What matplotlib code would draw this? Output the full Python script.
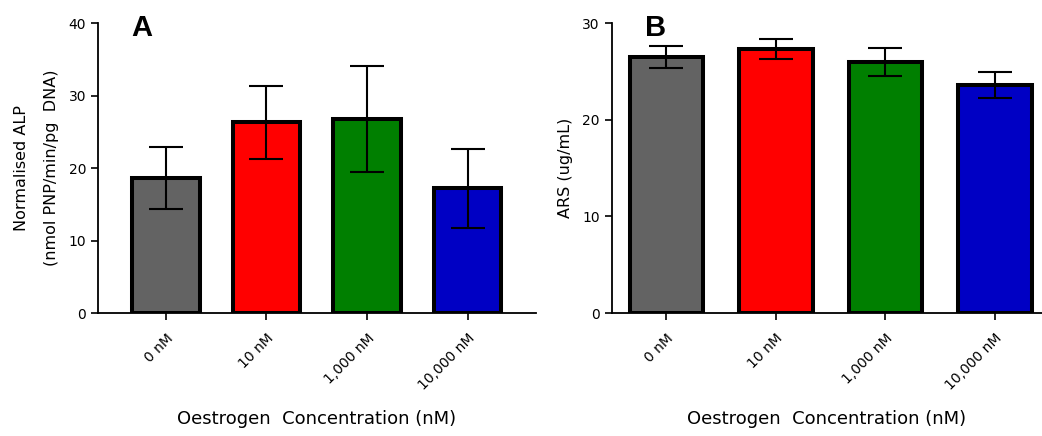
#!/usr/bin/env python3
"""Oestrogen dose response - ALP (A) and ARS (B) bar charts with SD error bars."""
import matplotlib
matplotlib.use("Agg")
import matplotlib.pyplot as plt
import numpy as np

CONCS = ["0 nM", "10 nM", "1,000 nM", "10,000 nM"]
COLORS = ["#636363", "#FF0000", "#007F00", "#0000C4"]

ALP_MEAN = [18.6, 26.3, 26.8, 17.2]
ALP_ERR = [4.3, 5.0, 7.3, 5.4]

ARS_MEAN = [26.5, 27.3, 26.0, 23.6]
ARS_ERR = [1.1, 1.05, 1.45, 1.3]

# wide letter-spaced look of the original -> DejaVu Sans is the closest width
plt.rcParams["font.family"] = ["DejaVu Sans"]


def bar_panel(ax, means, errs, ymax, ystep, ylabel, letter, xlim):
    x = np.arange(len(CONCS))
    ax.bar(x, means, width=0.67, color=COLORS, edgecolor="black", linewidth=2.9, zorder=2)
    ax.errorbar(x, means, yerr=errs, fmt="none", ecolor="black", elinewidth=1.5,
                capsize=12.5, capthick=1.5, zorder=3)
    ax.set_xlim(*xlim)
    ax.set_ylim(0, ymax)
    ax.set_yticks(np.arange(0, ymax + 1, ystep))
    ax.set_xticks(x)
    ax.set_xticklabels(CONCS, rotation=45, ha="right", rotation_mode="anchor", fontsize=9.5)
    ax.tick_params(axis="both", direction="out", length=5, width=1.2, labelsize=10)
    ax.tick_params(axis="x", pad=8)
    for side in ["top", "right"]:
        ax.spines[side].set_visible(False)
    for side in ["left", "bottom"]:
        ax.spines[side].set_linewidth(1.3)
    ax.set_ylabel(ylabel, fontsize=11.5, linespacing=2.2, labelpad=7)
    ax.set_xlabel("Oestrogen  Concentration (nM)", fontsize=13, labelpad=12)
    ax.text(0.077, 1.03, letter, transform=ax.transAxes, fontsize=21, fontweight="bold",
            va="top", ha="left", family="Liberation Sans")


def main():
    fig = plt.figure(figsize=(10.42, 4.36), dpi=100)
    ax_a = fig.add_axes([0.094, 0.282, 0.42, 0.665])
    ax_b = fig.add_axes([0.587, 0.282, 0.413, 0.665])

    bar_panel(ax_a, ALP_MEAN, ALP_ERR, 40, 10,
              "Normalised ALP\n(nmol PNP/min/pg  DNA)", "A", (-0.675, 3.675))
    bar_panel(ax_b, ARS_MEAN, ARS_ERR, 30, 10, "ARS (ug/mL)", "B", (-0.5, 3.43))

    fig.savefig("out.png", dpi=100)
    plt.close(fig)


if __name__ == "__main__":
    main()
